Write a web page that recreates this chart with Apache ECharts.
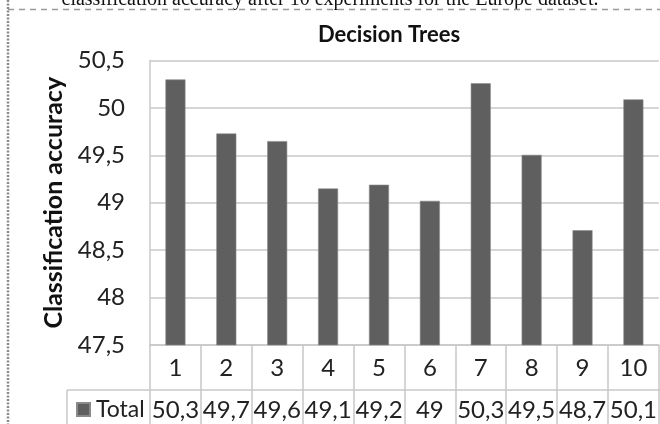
<!DOCTYPE html>
<html>
<head>
<meta charset="utf-8">
<script src="https://cdn.jsdelivr.net/npm/echarts@6/dist/echarts.min.js"></script>
<style>
  html, body { margin: 0; padding: 0; background: #fff; }
  #chart { width: 660px; height: 424px; }
</style>
</head>
<body>
<div id="chart"></div>
<script>
// Experiment numbers and the classification accuracy reached in each run
const categories = ['1', '2', '3', '4', '5', '6', '7', '8', '9', '10'];
const totalValues = [50.30, 49.73, 49.65, 49.15, 49.19, 49.02, 50.26, 49.505, 48.71, 50.09];
const seriesName = 'Total';
const yTicks = { min: 47.5, max: 50.5, step: 0.5 };

const FONT = "Lato, 'Open Sans', sans-serif";
const GRID = { left: 150, right: 1, top: 60.5, bottom: 79 };
const LINE = '#c8c8c8';

// decimal comma, like the rest of the figure
function fmt(v, digits) {
  if (digits === undefined) {
    return Number.isInteger(v) ? String(v) : String(v).replace('.', ',');
  }
  const s = v.toFixed(digits);
  return s.endsWith('.0') ? s.slice(0, -2) : s.replace('.', ',');
}

const chart = echarts.init(document.getElementById('chart'), null, { renderer: 'canvas' });

chart.setOption({
  animation: false,
  backgroundColor: '#fff',
  textStyle: { fontFamily: FONT },
  title: {
    text: 'Decision Trees',
    left: 384, top: 19, textAlign: 'center',
    textStyle: { fontFamily: FONT, fontSize: 22, fontWeight: 'bold', color: '#111' }
  },
  legend: {
    data: [seriesName],
    left: 76, top: 398, padding: 0,
    icon: 'rect', itemWidth: 13, itemHeight: 13, itemGap: 0,
    textStyle: { fontFamily: FONT, fontSize: 23, color: '#222', padding: [0, 0, 0, 1] }
  },
  grid: { left: GRID.left, right: GRID.right, top: GRID.top, bottom: GRID.bottom, containLabel: false },
  xAxis: {
    type: 'category',
    data: categories,
    axisLine: { show: true, lineStyle: { color: LINE, width: 1.5 } },
    axisTick: { show: true, length: 79, lineStyle: { color: LINE, width: 1.5 } },
    axisLabel: {
      margin: 2,
      interval: 0,
      formatter: (v, i) => '{c|' + v + '}\n{v|' + fmt(totalValues[i], 1) + '}',
      rich: {
        c: { fontFamily: FONT, fontSize: 24, lineHeight: 42, color: '#222' },
        v: { fontFamily: FONT, fontSize: 24, lineHeight: 42, color: '#222' }
      }
    }
  },
  yAxis: {
    type: 'value',
    min: yTicks.min, max: yTicks.max, interval: yTicks.step,
    name: 'Classification accuracy',
    nameLocation: 'middle',
    nameGap: 80,
    nameRotate: 90,
    nameTextStyle: { fontFamily: FONT, fontSize: 25, fontWeight: 'bold', color: '#111' },
    axisLine: { show: true, lineStyle: { color: LINE, width: 1.5 } },
    axisTick: { show: false },
    splitLine: { show: true, lineStyle: { color: LINE, width: 1.5 } },
    axisLabel: {
      margin: 25,
      fontFamily: FONT, fontSize: 24, color: '#222',
      formatter: v => fmt(v)
    }
  },
  series: [{
    name: seriesName,
    type: 'bar',
    data: totalValues,
    barWidth: 20,
    itemStyle: { color: '#5f5f5f', borderColor: '#8a8a8a', borderWidth: 0.6 }
  }],
  graphic: [
    // caption of the figure above the chart
    {
      type: 'text', left: 'center', top: -10,
      style: {
        text: 'classification accuracy after 10 experiments for the Europe dataset.',
        fontFamily: "'Liberation Serif', 'Times New Roman', serif",
        fontSize: 20,
        fill: '#111'
      }
    },
    // page frame: dashed rule under the caption and dashed left margin
    {
      type: 'line', shape: { x1: 8, y1: 9.5, x2: 660, y2: 9.5 },
      style: { stroke: '#9a9a9a', lineWidth: 1.5, lineDash: [6, 5] }
    },
    {
      type: 'line', shape: { x1: 8, y1: 0, x2: 8, y2: 424 },
      style: { stroke: '#8a8a8a', lineWidth: 2.5, lineDash: [2, 1.5] }
    },
    // data table rule and left border of the series row
    {
      type: 'line', shape: { x1: 67, y1: 390, x2: 660, y2: 390 },
      style: { stroke: LINE, lineWidth: 1.5 }
    },
    {
      type: 'line', shape: { x1: 67, y1: 390, x2: 67, y2: 424 },
      style: { stroke: LINE, lineWidth: 1.5 }
    }
  ]
});
</script>
</body>
</html>
